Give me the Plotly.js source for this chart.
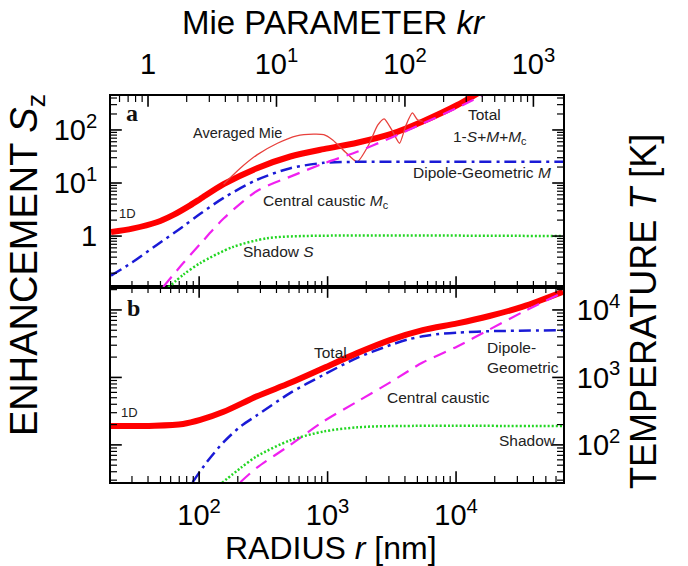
<!DOCTYPE html>
<html><head><meta charset="utf-8">
<script src="https://cdn.plot.ly/plotly-3.0.1.min.js"></script>
<style>html,body{margin:0;padding:0;background:#fff}#chart{width:688px;height:566px}</style>
</head><body><div id="chart"></div>
<script>
// ---------------- data ----------------
const R_PER_KR = 40; // nm of radius per unit Mie parameter kr

// Panel a : enhancement S_z versus radius r [nm]
const rTotalA = [20.6, 30.2, 46.8, 63.1, 85.1, 102, 155, 282, 513, 933, 1698, 3090, 5495, 10233, 16218];
const sTotalA = [1.19, 1.38, 1.82, 2.51, 3.80, 5.0, 9.5, 19.0, 31.6, 43.6, 57.5, 83.2, 144.5, 295, 562];

const rMieA = [155, 209, 282, 407, 575, 776, 933, 1096, 1380, 1698, 2089, 2455, 2754, 3162, 3631, 4074, 4571, 5012, 5495];
const sMieA = [9.5, 19.0, 33.9, 56.2, 77.6, 83.2, 81.3, 64.6, 38.0, 25.1, 52.5, 123, 162, 100, 56.2, 123, 209, 155, 145];

const rDipoleA = [20.6, 30.2, 46.8, 74.1, 102, 155, 282, 513, 933, 1698, 3090, 68000];
const sDipoleA = [0.18, 0.32, 0.68, 1.48, 2.63, 5.25, 11.5, 19.0, 24.0, 25.1, 25.1, 25.1];

const rCausticA = [52.5, 75.2, 102, 155, 282, 513, 933, 1698, 3090, 5495, 10233, 18197];
const sCausticA = [0.11, 0.31, 0.71, 2.14, 7.08, 13.2, 23.4, 38.9, 70.8, 132, 263, 525];

const rShadowA = [57.5, 75.9, 102, 182, 339, 617, 68000];
const sShadowA = [0.107, 0.19, 0.31, 0.62, 0.91, 1.0, 1.0];

// Panel b : temperature T [K] versus radius r [nm]
const rTotalB = [20.6, 45, 75, 102, 155, 282, 513, 933, 1698, 3090, 5495, 10233, 18197, 33113, 68000];
const tTotalB = [190, 192, 204, 234, 309, 525, 832, 1380, 2290, 3600, 5010, 6310, 8130, 11200, 18600];

const rDipoleB = [89, 115, 155, 209, 282, 513, 933, 1698, 3090, 4169, 5495, 7413, 10233, 18197, 68000];
const tDipoleB = [28, 56, 110, 186, 275, 589, 1096, 1950, 3020, 3630, 4070, 4420, 4620, 4840, 5010];

const rCausticB = [209, 282, 513, 933, 1698, 3090, 5495, 10233, 18197, 33113, 68000];
const tCausticB = [28, 46, 100, 224, 437, 851, 1660, 2880, 5130, 9330, 18200];

const rShadowB = [151, 209, 282, 513, 933, 1698, 3090, 68000];
const tShadowB = [27.5, 45, 68, 117, 158, 182, 190, 190];

// tick labels
const rTickVals = [100, 1000, 10000];
const rTickText = ['10<sup>2</sup>', '10<sup>3</sup>', '10<sup>4</sup>'];
const krTickVals = [1, 10, 100, 1000];
const krTickText = ['1', '10<sup>1</sup>', '10<sup>2</sup>', '10<sup>3</sup>'];
const sTickVals = [1, 10, 100];
const sTickText = ['1', '10<sup>1</sup>', '10<sup>2</sup>'];
const tTickVals = [100, 1000, 10000];
const tTickText = ['10<sup>2</sup>', '10<sup>3</sup>', '10<sup>4</sup>'];

// ---------------- layout geometry ----------------
const FONT = 'Liberation Sans, Arial, Helvetica, sans-serif';
const SERIF = 'Liberation Serif, Times New Roman, serif';
const W = 688, H = 566;
const L = 111, R = 563, T = 96, B = 482, MID = 287;
const fracMid = (B - MID) / (B - T);
const px = x => (x - L) / (R - L);
const py = y => (B - y) / (B - T);

const xRange = [Math.log10(20.6), Math.log10(68000)];
const krShift = Math.log10(R_PER_KR);
const krRange = [xRange[0] - krShift, xRange[1] - krShift];
const sRange = [-0.96, 2.64];
const tRange = [1.45, 4.34];

// decade (major) and 2..9 (minor) tick positions in log units inside a range
function logTicks(range) {
  const major = [], minor = [];
  for (let d = Math.floor(range[0]) - 1; d <= Math.ceil(range[1]); d++) {
    for (let m = 1; m <= 9; m++) {
      const lt = Math.log10(m * Math.pow(10, d));
      if (lt > range[0] + 1e-6 && lt < range[1] - 1e-6) (m === 1 ? major : minor).push(lt);
    }
  }
  return {major: major, minor: minor};
}

// ---------------- tick marks drawn as line-symbol markers ----------------
const P = v => Math.pow(10, v);
const dX = n => n * (xRange[1] - xRange[0]) / (R - L);
const dA = n => n * (sRange[1] - sRange[0]) / (MID - T);
const dB = n => n * (tRange[1] - tRange[0]) / (B - MID);
const sizes = [['major', 9, 1.6], ['minor', 5, 1.2]];
const tickTraces = [];
function addMarks(xa, ya, xs, ys, symbol, n, w) {
  if (!xs.length) return;
  tickTraces.push({x: xs, y: ys, xaxis: xa, yaxis: ya, mode: 'markers', hoverinfo: 'skip',
    showlegend: false, cliponaxis: false,
    marker: {symbol: symbol, size: n, color: '#000', line: {color: '#000', width: w}}});
}
const rT = logTicks(xRange), kT = logTicks(krRange), sT = logTicks(sRange), tT = logTicks(tRange);
sizes.forEach(function (sz) {
  const k = sz[0], n = sz[1], w = sz[2];
  let xs, ys;
  // bottom panel: r ticks at bottom edge and below divider
  xs = []; ys = [];
  rT[k].forEach(function (lv) {
    xs.push(P(lv), P(lv));
    ys.push(P(tRange[0] + dB(n / 2)), P(tRange[1] - dB(n / 2)));
  });
  addMarks('x', 'y3', xs, ys, 'line-ns', n, w);
  // bottom panel: T ticks left and right
  xs = []; ys = [];
  tT[k].forEach(function (lv) {
    xs.push(P(xRange[0] + dX(n / 2)), P(xRange[1] - dX(n / 2)));
    ys.push(P(lv), P(lv));
  });
  addMarks('x', 'y3', xs, ys, 'line-ew', n, w);
  // top panel: r ticks above divider
  xs = []; ys = [];
  rT[k].forEach(function (lv) { xs.push(P(lv)); ys.push(P(sRange[0] + dA(n / 2))); });
  addMarks('x3', 'y', xs, ys, 'line-ns', n, w);
  // top panel: S ticks left and right
  xs = []; ys = [];
  sT[k].forEach(function (lv) {
    xs.push(P(xRange[0] + dX(n / 2)), P(xRange[1] - dX(n / 2)));
    ys.push(P(lv), P(lv));
  });
  addMarks('x3', 'y', xs, ys, 'line-ew', n, w);
  // top axis: kr ticks
  xs = []; ys = [];
  kT[k].forEach(function (lv) { xs.push(P(lv)); ys.push(P(sRange[1] - dA(n / 2))); });
  addMarks('x2', 'y', xs, ys, 'line-ns', n, w);
});

const axBase = {
  type: 'log', showline: true, linecolor: '#000', linewidth: 2,
  ticks: '', showgrid: false, zeroline: false, automargin: false, fixedrange: true,
  tickmode: 'array',
  tickfont: {family: FONT, size: 29, color: '#000'}
};

// ---------------- traces ----------------
const sp = {shape: 'spline', smoothing: 0.8};
const dashDot = '12px,5px,3px,5px';
const traces = [
  // panel a
  {x: rTotalA, y: sTotalA, xaxis: 'x3', yaxis: 'y', mode: 'lines',
   line: Object.assign({color: '#ff0000', width: 6}, sp)},
  {x: rMieA, y: sMieA, xaxis: 'x3', yaxis: 'y', mode: 'lines',
   line: {color: '#e8403c', width: 1.3, shape: 'spline', smoothing: 0.6}},
  {x: rDipoleA, y: sDipoleA, xaxis: 'x3', yaxis: 'y', mode: 'lines',
   line: Object.assign({color: '#1a1ad6', width: 2.5, dash: dashDot}, sp)},
  {x: rCausticA, y: sCausticA, xaxis: 'x3', yaxis: 'y', mode: 'lines',
   line: Object.assign({color: '#f020f0', width: 2.2, dash: '13px,8px'}, sp)},
  {x: rShadowA, y: sShadowA, xaxis: 'x3', yaxis: 'y', mode: 'lines',
   line: Object.assign({color: '#22d622', width: 2.5, dash: '2px,2px'}, sp)},
  // panel b
  {x: rTotalB, y: tTotalB, xaxis: 'x', yaxis: 'y3', mode: 'lines',
   line: Object.assign({color: '#ff0000', width: 6}, sp)},
  {x: rDipoleB, y: tDipoleB, xaxis: 'x', yaxis: 'y3', mode: 'lines',
   line: Object.assign({color: '#1a1ad6', width: 2.5, dash: dashDot}, sp)},
  {x: rCausticB, y: tCausticB, xaxis: 'x', yaxis: 'y3', mode: 'lines',
   line: Object.assign({color: '#f020f0', width: 2.2, dash: '13px,8px'}, sp)},
  {x: rShadowB, y: tShadowB, xaxis: 'x', yaxis: 'y3', mode: 'lines',
   line: Object.assign({color: '#22d622', width: 2.5, dash: '2px,2px'}, sp)}
].concat(tickTraces);

// ---------------- annotations ----------------
const lab = (text, x, y, size, opts) => Object.assign({
  text: text, xref: 'paper', yref: 'paper', x: px(x), y: py(y),
  xanchor: 'center', yanchor: 'middle', showarrow: false,
  font: {family: FONT, size: size, color: '#222'}
}, opts || {});

const annotations = [
  lab('ENHANCEMENT <i>S</i><sub>z</sub>', 27, 265, 38, {textangle: -90, font: {family: FONT, size: 38, color: '#000'}}),
  lab('TEMPERATURE <i>T</i> [K]', 643, 312, 36, {textangle: -90, font: {family: FONT, size: 36, color: '#000'}}),
  lab('Mie PARAMETER <i>kr</i>', 334, 22, 33, {font: {family: FONT, size: 33, color: '#000'}}),
  lab('RADIUS <i>r</i> [nm]', 331, 548, 32, {font: {family: FONT, size: 32, color: '#000'}}),
  // panel a
  lab('<b>a</b>', 132, 113, 24, {font: {family: SERIF, size: 24, color: '#111'}}),
  lab('Averaged Mie', 237, 133, 14.5),
  lab('Total', 484, 114, 15.5),
  lab('1-<i>S</i>+<i>M</i>+<i>M</i><sub>c</sub>', 490, 137, 15.5),
  lab('Dipole-Geometric <i>M</i>', 482, 172, 15.5),
  lab('Central caustic <i>M</i><sub>c</sub>', 326, 201, 15.5),
  lab('1D', 127, 213, 13),
  lab('Shadow <i>S</i>', 278, 251, 15.5),
  // panel b
  lab('<b>b</b>', 133, 308, 24, {font: {family: SERIF, size: 24, color: '#111'}}),
  lab('Total', 330, 352, 15.5),
  lab('Dipole-<br>Geometric', 485, 357, 15.5, {xanchor: 'left', align: 'left'}),
  lab('Central caustic', 438, 397, 15.5),
  lab('1D', 129, 412, 13),
  lab('Shadow', 527, 440, 15.5)
];

const layout = {
  width: W, height: H,
  margin: {l: L, r: W - R, t: T, b: H - B, pad: 0},
  paper_bgcolor: '#fff', plot_bgcolor: '#fff',
  showlegend: false,
  font: {family: FONT, color: '#000'},
  xaxis: Object.assign({}, axBase, {range: xRange, anchor: 'y3', domain: [0, 1],
    tickvals: rTickVals, ticktext: rTickText, mirror: true, ticklabelstandoff: 6}),
  xaxis3: Object.assign({}, axBase, {range: xRange, anchor: 'y', domain: [0, 1],
    tickvals: rTickVals, ticktext: rTickText, showticklabels: false}),
  xaxis2: Object.assign({}, axBase, {range: krRange, anchor: 'y', overlaying: 'x3', side: 'top',
    tickvals: krTickVals, ticktext: krTickText, ticklabelstandoff: 8}),
  yaxis: Object.assign({}, axBase, {range: sRange, anchor: 'x3', domain: [fracMid, 1],
    tickvals: sTickVals, ticktext: sTickText, mirror: true, ticklabelstandoff: 6}),
  yaxis3: Object.assign({}, axBase, {range: tRange, anchor: 'x', domain: [0, fracMid], side: 'right',
    tickvals: tTickVals, ticktext: tTickText, mirror: true, ticklabelstandoff: 6}),
  annotations: annotations
};

Plotly.newPlot('chart', traces, layout, {displayModeBar: false, staticPlot: true});
</script>
</body></html>
